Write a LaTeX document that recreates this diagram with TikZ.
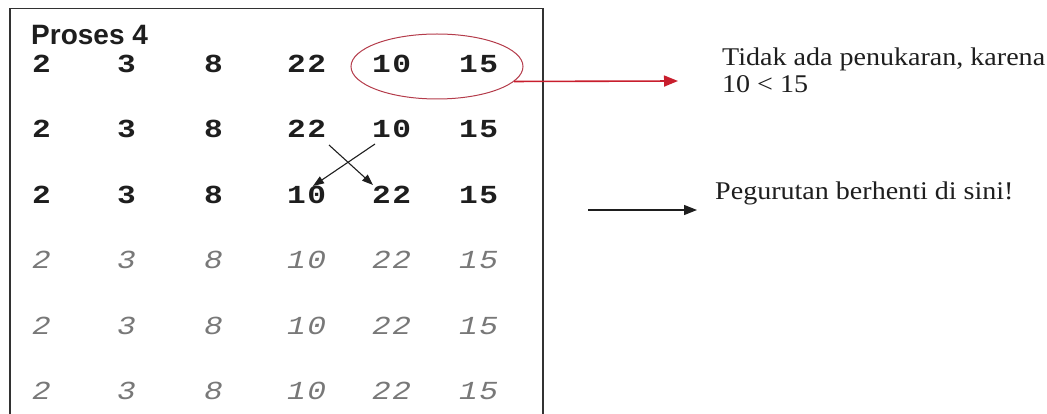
\documentclass[tikz,border=0pt]{standalone}
\usepackage{fontspec}
\setmainfont{Liberation Serif}
\newfontfamily\serifx[FakeStretch=1.1]{Liberation Serif}
\newfontfamily\sansx{Liberation Sans}
\newfontfamily\monox[FakeStretch=1.2,LetterSpace=6]{Liberation Mono}
\usetikzlibrary{arrows.meta,shapes.geometric}
\definecolor{redline}{RGB}{200,30,45}
\definecolor{ellred}{RGB}{180,60,75}
\definecolor{ink}{RGB}{30,30,30}
\definecolor{greyink}{RGB}{120,120,120}
\definecolor{frame}{RGB}{50,50,50}
\begin{document}
\begin{tikzpicture}[x=1pt,y=-1pt,
  num/.style={anchor=base west, inner sep=0pt, font=\monox\bfseries\fontsize{26}{26}\selectfont, text=ink},
  numi/.style={anchor=base west, inner sep=0pt, font=\monox\itshape\fontsize{26}{26}\selectfont, text=greyink},
  note/.style={anchor=base west, inner sep=0pt, font=\serifx\fontsize{25.5}{28}\selectfont, text=ink},
  swaparrow/.style={-{Triangle[length=11pt,width=8pt]}, line width=1.1pt, draw=ink},
]
\useasboundingbox (0,0) rectangle (1047,414);
% frame
\draw[line width=1.6pt, draw=frame] (10,420) -- (10,8.5) -- (543,8.5) -- (543,420);
% title
\node[anchor=base west, inner sep=0pt, font=\sansx\bfseries\fontsize{28}{28}\selectfont, text=ink] (title) at (31,45) {Proses 4};
% rows
\foreach \c/\x/\v in {1/32/2,2/117/3,3/204/8,4/287/22,5/372/10,6/459/15}
  \node[num] (n1\c) at (\x,73) {\v};
\foreach \c/\x/\v in {1/32/2,2/117/3,3/204/8,4/287/22,5/372/10,6/459/15}
  \node[num] (n2\c) at (\x,138) {\v};
\foreach \c/\x/\v in {1/32/2,2/117/3,3/204/8,4/287/10,5/372/22,6/459/15}
  \node[num] (n3\c) at (\x,204) {\v};
\foreach \c/\x/\v in {1/32/2,2/117/3,3/204/8,4/287/10,5/372/22,6/459/15}
  \node[numi] (n4\c) at (\x,269) {\v};
\foreach \c/\x/\v in {1/32/2,2/117/3,3/204/8,4/287/10,5/372/22,6/459/15}
  \node[numi] (n5\c) at (\x,334) {\v};
\foreach \c/\x/\v in {1/32/2,2/117/3,3/204/8,4/287/10,5/372/22,6/459/15}
  \node[numi] (n6\c) at (\x,399) {\v};
% swap arrows
\draw[swaparrow] ([shift={(42,7)}]n24.base west) -- ([shift={(1,-19)}]n35.base west);
\draw[swaparrow] ([shift={(3,6)}]n25.base west) -- ([shift={(26,-18)}]n34.base west);
% ellipse and red arrow
\node[ellipse, draw=ellred, line width=1pt, minimum width=172pt, minimum height=65pt, inner sep=0pt] (ell) at (437,66.5) {};
\node[note] (t1) at (722,66) {Tidak ada penukaran, karena};
\node[note] (t2) at (722,93) {10 < 15};
\coordinate (redend) at (678,81);
\draw[redline, line width=1.6pt, -{Triangle[length=14pt,width=11pt]}] (ell.-11) -- (redend);
% black arrow
\node[note] (t3) at (715,200) {Pegurutan berhenti di sini!};
\coordinate (bs) at (588,210);
\coordinate (be) at (697,210);
\draw[line width=1.2pt, draw=ink, -{Triangle[length=13pt,width=10pt]}] (bs) -- (be);
\end{tikzpicture}
\end{document}
